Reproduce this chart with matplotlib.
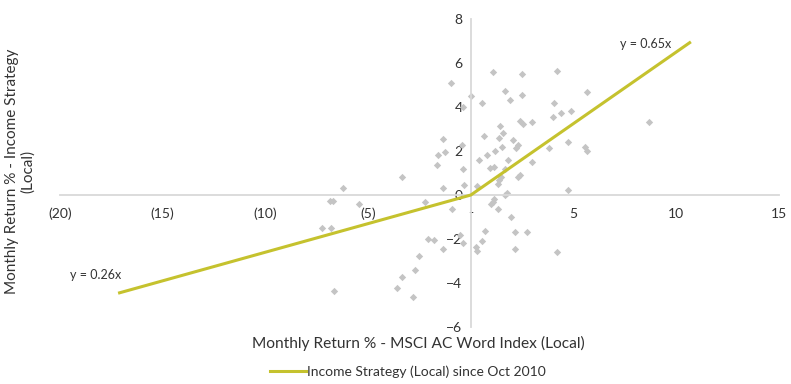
import matplotlib.pyplot as plt
import numpy as np

plt.rcParams['font.family'] = ['Lato', 'DejaVu Sans']

# monthly returns, MSCI AC World (x) vs Income Strategy (y)
msci = [-0.99, 0.02, -0.36, -1.38, -0.45, -1.25, -1.59, -1.64, -0.37, -3.37,
        -6.24, -1.38, -0.34, 0.28, 0.40, 1.09, 2.51, 4.17, 1.67, 0.54,
        1.91, 2.51, 5.63, 4.04, 4.38, 4.00, 4.87, 2.38, 2.55, 2.98,
        8.68, 1.41, 1.57, 0.65, 1.38, 2.06, 2.30, 2.19, 1.52, 1.17,
        0.79, 4.75, 5.55, 5.66, 3.80, 1.83, 2.98, 0.92, 1.12, 1.64,
        1.49, 1.38, 1.33, 2.38, 2.30, 4.75, 1.65, 1.77, 1.12, 1.09,
        0.96, 1.31, 1.95, 0.68, 2.14, 2.71, 0.54, 0.24, 0.31, 2.14,
        4.17, -0.40, -0.54, -6.86, -6.73, -5.44, -2.24, -0.94, -7.27, -6.83,
        -2.08, -1.80, -1.35, -2.52, -2.72, -3.37, -3.59, -6.67, -2.84]
income = [5.08, 4.50, 3.99, 2.56, 2.27, 1.97, 1.82, 1.36, 1.17, 0.82,
          0.30, 0.33, 0.44, 0.41, 1.59, 5.58, 5.50, 5.65, 4.75, 4.17,
          4.30, 4.53, 4.70, 4.17, 3.74, 3.53, 3.82, 3.38, 3.23, 3.32,
          3.32, 3.15, 2.83, 2.67, 2.58, 2.49, 2.27, 2.12, 2.17, 2.00,
          1.80, 2.42, 2.17, 2.01, 2.14, 1.57, 1.52, 1.21, 1.26, 1.16,
          0.83, 0.68, 0.50, 0.91, 0.80, 0.25, 0.00, 0.07, -0.20, -0.30,
          -0.41, -0.65, -0.99, -1.62, -1.70, -1.70, -2.08, -2.35, -2.53, -2.45,
          -2.59, -2.20, -1.82, -0.27, -0.27, -0.41, -0.30, -0.65, -1.49, -1.51,
          -2.00, -2.05, -2.47, -2.77, -3.41, -3.74, -4.24, -4.35, -4.62]

# piecewise fit line: down-market slope 0.26, up-market slope 0.65
fit_x = [-17.1, 0, 10.65]
fit_y = [-17.1 * 0.26, 0, 10.65 * 0.65]

x_ticks = [-20, -15, -10, -5, 0, 5, 10, 15]
x_labels = ['(20)', '(15)', '(10)', '(5)', '-', '5', '10', '15']
y_ticks = [-6, -4, -2, 0, 2, 4, 6, 8]

text_col = '#333333'
line_col = '#c5c22e'

fig = plt.figure(figsize=(7.91, 3.84), dpi=100)
ax = fig.add_axes([60 / 791, 1 - 327 / 384, (779 - 60) / 791, (327 - 19) / 384])

ax.scatter(msci, income, marker='D', s=14, color='#c4c4c4', linewidths=0, zorder=2)
ax.plot(fit_x, fit_y, color=line_col, lw=2.2, zorder=3,
        label='Income Strategy (Local) since Oct 2010')

ax.set_xlim(-20, 15)
ax.set_ylim(-6, 8)
ax.set_xticks(x_ticks)
ax.set_xticklabels(x_labels)
ax.set_yticks(y_ticks)

for side in ['top', 'right']:
    ax.spines[side].set_visible(False)
ax.spines['left'].set_position(('data', 0))
ax.spines['bottom'].set_position(('data', 0))
for side in ['left', 'bottom']:
    ax.spines[side].set_color('#d9d9d9')
    ax.spines[side].set_linewidth(1.3)
ax.tick_params(length=0, labelsize=10, labelcolor=text_col)
ax.tick_params(axis='x', pad=9)
ax.tick_params(axis='y', pad=6)
ax.patch.set_alpha(0)

ax.text(646 / 791, 1 - 44 / 384, 'y = 0.65x', transform=fig.transFigure,
        ha='center', va='center', fontsize=9, color=text_col)
ax.text(96 / 791, 1 - 275 / 384, 'y = 0.26x', transform=fig.transFigure,
        ha='center', va='center', fontsize=9, color=text_col)

fig.text(418 / 791, 1 - 343 / 384, 'Monthly Return % - MSCI AC Word Index (Local)',
         ha='center', va='center', fontsize=11.2, color=text_col)
fig.text(20 / 791, 1 - 171 / 384, 'Monthly Return % - Income Strategy\n(Local)',
         ha='center', va='center', rotation=90, fontsize=11, color=text_col,
         linespacing=1.1)

fig.legend(loc='center', bbox_to_anchor=(408 / 791, 1 - 372 / 384), frameon=False,
           fontsize=10, handlelength=2.6, handletextpad=0.1, labelcolor=text_col,
           borderpad=0.05)

fig.savefig('out.png', dpi=100)
